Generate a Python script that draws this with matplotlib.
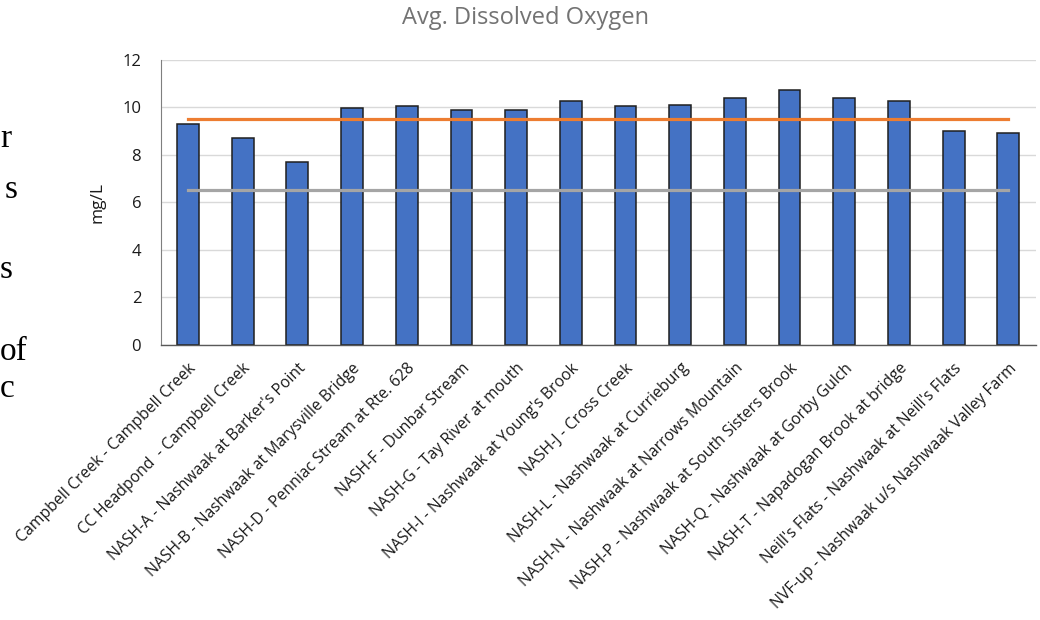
import numpy as np
import matplotlib
matplotlib.use("Agg")
import matplotlib.pyplot as plt

sites = [
    "Campbell Creek - Campbell Creek",
    "CC Headpond  - Campbell Creek",
    "NASH-A - Nashwaak at Barker's Point",
    "NASH-B - Nashwaak at Marysville Bridge",
    "NASH-D - Penniac Stream at Rte. 628",
    "NASH-F - Dunbar Stream",
    "NASH-G - Tay River at mouth",
    "NASH-I - Nashwaak at Young's Brook",
    "NASH-J - Cross Creek",
    "NASH-L - Nashwaak at Currieburg",
    "NASH-N - Nashwaak at Narrows Mountain",
    "NASH-P - Nashwaak at South Sisters Brook",
    "NASH-Q - Nashwaak at Gorby Gulch",
    "NASH-T - Napadogan Brook at bridge",
    "Neill's Flats - Nashwaak at Neill's Flats",
    "NVF-up - Nashwaak u/s Nashwaak Valley Farm",
]
avg_do = [9.31, 8.69, 7.71, 9.95, 10.07, 9.90, 9.90, 10.25,
          10.07, 10.10, 10.38, 10.72, 10.38, 10.28, 9.00, 8.91]
upper_guideline = [9.5] * len(sites)
lower_guideline = [6.5] * len(sites)
y_ticks = [0, 2, 4, 6, 8, 10, 12]

# leftover words from the neighbouring page column
margin_bits = [("r", 0.0, 0.763), ("s", 0.004, 0.680), ("s", 0.0, 0.551),
               ("of", 0.0, 0.419), ("c", 0.0, 0.360)]

plt.rcParams['font.family'] = ['Open Sans', 'DejaVu Sans']

fig = plt.figure(figsize=(10.4, 6.2), dpi=100)
ax = fig.add_axes([0.1545, 0.4435, 0.8413, 0.4602])

x = np.arange(len(sites))
ax.bar(x, avg_do, width=0.4, color='#4472C4', edgecolor='#1f1f1f',
       linewidth=1.1, zorder=2)
ax.plot(x, upper_guideline, color='#ED7D31', linewidth=2.3, zorder=3)
ax.plot(x, lower_guideline, color='#A5A5A5', linewidth=2.3, zorder=3)

ax.set_xlim(-0.5, len(sites) - 0.5)
ax.set_ylim(0, 12)
ax.set_yticks(y_ticks)
ax.set_xticks(x)
ax.set_xticklabels(sites, rotation=45, ha='right', rotation_mode='anchor',
                   fontsize=11.3, color='#1a1a1a')
ax.tick_params(axis='y', labelsize=12, labelcolor='#1a1a1a', length=0, pad=14)
ax.tick_params(axis='x', length=0, pad=11)
ax.grid(axis='y', color='#d9d9d9', linewidth=1.0, zorder=0)
ax.set_axisbelow(True)

for side in ['top', 'right']:
    ax.spines[side].set_visible(False)
ax.spines['left'].set_color('#7f7f7f')
ax.spines['bottom'].set_color('#595959')
ax.spines['bottom'].set_linewidth(1.0)

ax.set_ylabel("mg/L", fontsize=12.5, color='#1a1a1a', labelpad=12)

fig.text(0.505, 0.961, "Avg. Dissolved Oxygen", ha='center', va='baseline',
         fontsize=17, color='#737373')

for word, wx, wy in margin_bits:
    fig.text(wx, wy, word, fontsize=24, family='Liberation Serif', color='black')

fig.savefig("out.png", dpi=100)
